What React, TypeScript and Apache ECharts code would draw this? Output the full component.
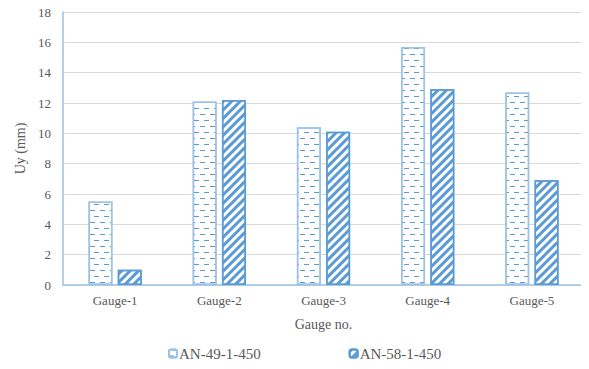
import React, { useEffect, useRef } from "react";
import * as echarts from "echarts";

const categories = ["Gauge-1", "Gauge-2", "Gauge-3", "Gauge-4", "Gauge-5"];
const seriesNames = ["AN-49-1-450", "AN-58-1-450"];
const an49 = [5.5, 12.1, 10.4, 15.7, 12.7];
const an58 = [1.0, 12.2, 10.1, 12.9, 6.9];

const FONT = "Times New Roman, Liberation Serif, DejaVu Serif, serif";
const TEXT = "#595959";

export default function App() {
  const ref = useRef<HTMLDivElement>(null);
  useEffect(() => {
    if (!ref.current) return;
    const chart = echarts.init(ref.current, undefined, { renderer: "svg" });
    chart.setOption({
      animation: false,
      textStyle: { fontFamily: FONT },
      grid: { left: 63, right: 5, top: 12, bottom: 84 },
      legend: {
        bottom: 3,
        left: 163,
        itemWidth: 8,
        itemHeight: 8,
        itemGap: 88,
        textStyle: { fontFamily: FONT, fontSize: 15, color: TEXT, padding: [0, 0, 0, -3] },
        data: seriesNames,
      },
      xAxis: {
        type: "category",
        data: categories,
        name: "Gauge no.",
        nameLocation: "middle",
        nameGap: 32,
        nameTextStyle: { fontFamily: FONT, fontSize: 14, color: TEXT },
        axisLine: { lineStyle: { color: "#9DC3E6", width: 1.5 } },
        axisTick: { show: false },
        axisLabel: { fontFamily: FONT, fontSize: 13, color: TEXT, margin: 9 },
      },
      yAxis: {
        type: "value",
        min: 0,
        max: 18,
        interval: 2,
        name: "Uy (mm)",
        nameLocation: "middle",
        nameGap: 34,
        nameTextStyle: { fontFamily: FONT, fontSize: 14, color: TEXT },
        axisLine: { show: true, lineStyle: { color: "#9DC3E6", width: 1.5 } },
        axisTick: { show: false },
        splitLine: { lineStyle: { color: "#D9D9D9" } },
        axisLabel: { fontFamily: FONT, fontSize: 13, color: TEXT, margin: 12 },
      },
      series: [
        {
          name: seriesNames[0],
          type: "bar",
          data: an49,
          barWidth: 24,
          barGap: "22%",
          itemStyle: {
            color: "#FFFFFF",
            borderColor: "#9DC3E6",
            borderWidth: 1.5,
            decal: {
              symbol: "rect",
              color: "#5B9BD5",
              backgroundColor: "#FFFFFF",
              dashArrayX: [[5, 5], [0, 4, 5, 1]],
              dashArrayY: [1, 4.3],
              rotation: 0,
            },
          },
        },
        {
          name: seriesNames[1],
          type: "bar",
          data: an58,
          barWidth: 24,
          itemStyle: {
            color: "#FFFFFF",
            borderColor: "#5B9BD5",
            borderWidth: 1.5,
            decal: {
              symbol: "rect",
              color: "#5B9BD5",
              backgroundColor: "#FFFFFF",
              dashArrayX: [1, 0],
              dashArrayY: [2.6, 3],
              rotation: -Math.PI / 4,
            },
          },
        },
      ],
    });
    return () => chart.dispose();
  }, []);
  return <div ref={ref} style={{ width: 589, height: 369, margin: -8 }} />;
}
